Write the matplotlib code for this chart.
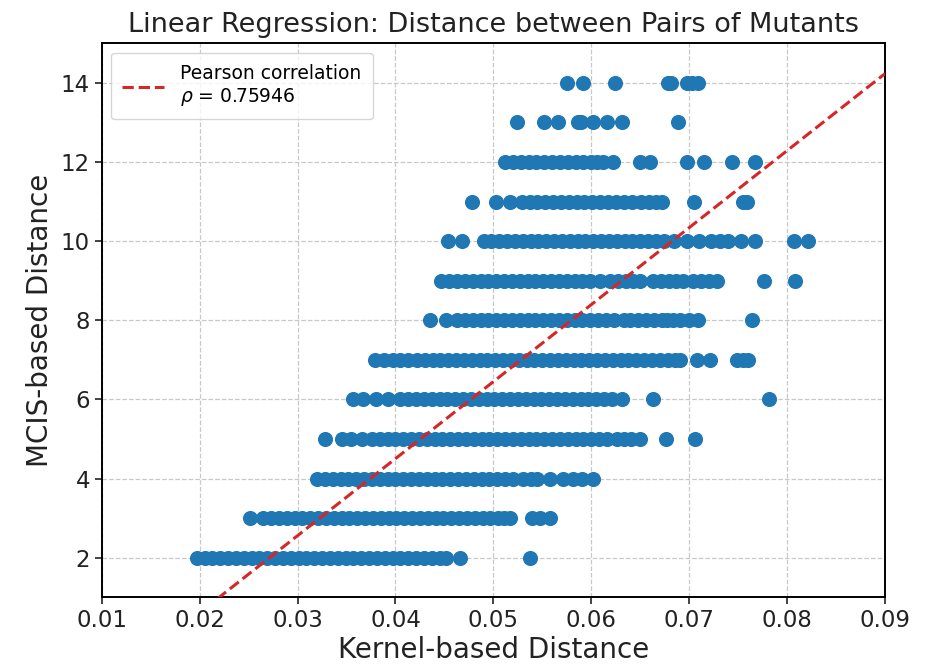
import matplotlib
matplotlib.use("Agg")
import matplotlib.pyplot as plt
import numpy as np

# MCIS-based distance levels (y) and the kernel-based distances read per level (x)
y_levels = [2, 3, 4, 5, 6, 7, 8, 9, 10, 11, 12, 13, 14]

x_row2 = [0.0197, 0.0205, 0.0213, 0.0221, 0.0229, 0.0237, 0.0245, 0.0253, 0.0261,
          0.0269, 0.0277, 0.0285, 0.0293, 0.0301, 0.0309, 0.0317, 0.0325, 0.0333,
          0.0341, 0.0349, 0.0357, 0.0365, 0.0373, 0.0381, 0.0389, 0.0397, 0.0405,
          0.0413, 0.0421, 0.0429, 0.0437, 0.0445, 0.0452, 0.0466, 0.0537]
x_row3 = [0.0251, 0.0265, 0.0273, 0.0281, 0.0289, 0.0297, 0.0305, 0.0313, 0.0321,
          0.0329, 0.0337, 0.0345, 0.0353, 0.0361, 0.0369, 0.0377, 0.0385, 0.0393,
          0.0401, 0.0409, 0.0417, 0.0425, 0.0433, 0.0441, 0.0449, 0.0457, 0.0465,
          0.0473, 0.0481, 0.0489, 0.0497, 0.0505, 0.0511, 0.0517, 0.0539, 0.0548,
          0.0558]
x_row4 = [0.0320, 0.0328, 0.0336, 0.0344, 0.0352, 0.0360, 0.0368, 0.0376, 0.0384,
          0.0392, 0.0400, 0.0408, 0.0416, 0.0424, 0.0432, 0.0440, 0.0448, 0.0456,
          0.0464, 0.0472, 0.0480, 0.0488, 0.0496, 0.0504, 0.0512, 0.0520, 0.0530,
          0.0538, 0.0545, 0.0558, 0.0571, 0.0581, 0.0591, 0.0602]
x_row5 = [0.0328, 0.0345, 0.0355, 0.0366, 0.0376, 0.0384, 0.0392, 0.0400, 0.0408,
          0.0416, 0.0424, 0.0432, 0.0440, 0.0448, 0.0456, 0.0464, 0.0472, 0.0480,
          0.0488, 0.0496, 0.0504, 0.0512, 0.0520, 0.0528, 0.0536, 0.0544, 0.0552,
          0.0560, 0.0568, 0.0576, 0.0584, 0.0592, 0.0600, 0.0608, 0.0616, 0.0626,
          0.0633, 0.0641, 0.0650, 0.0676, 0.0706]
x_row6 = [0.0357, 0.0367, 0.0380, 0.0392, 0.0405, 0.0413, 0.0421, 0.0429, 0.0437,
          0.0445, 0.0453, 0.0461, 0.0469, 0.0477, 0.0485, 0.0493, 0.0501, 0.0509,
          0.0517, 0.0525, 0.0533, 0.0541, 0.0549, 0.0557, 0.0565, 0.0573, 0.0581,
          0.0589, 0.0597, 0.0605, 0.0613, 0.0621, 0.0631, 0.0663, 0.0781]
x_row7 = [0.0379, 0.0388, 0.0397, 0.0405, 0.0413, 0.0422, 0.0430, 0.0438, 0.0446,
          0.0454, 0.0462, 0.0470, 0.0478, 0.0486, 0.0494, 0.0502, 0.0510, 0.0518,
          0.0526, 0.0534, 0.0542, 0.0550, 0.0558, 0.0566, 0.0574, 0.0582, 0.0590,
          0.0598, 0.0606, 0.0614, 0.0622, 0.0630, 0.0638, 0.0646, 0.0654, 0.0662,
          0.0670, 0.0678, 0.0685, 0.0691, 0.0708, 0.0721, 0.0749, 0.0755, 0.0760]
x_row8 = [0.0435, 0.0452, 0.0463, 0.0471, 0.0479, 0.0487, 0.0495, 0.0503, 0.0511,
          0.0519, 0.0527, 0.0535, 0.0543, 0.0551, 0.0559, 0.0567, 0.0575, 0.0583,
          0.0591, 0.0599, 0.0607, 0.0615, 0.0623, 0.0633, 0.0640, 0.0648, 0.0656,
          0.0664, 0.0672, 0.0677, 0.0683, 0.0691, 0.0700, 0.0709, 0.0764]
x_row9 = [0.0447, 0.0455, 0.0463, 0.0471, 0.0479, 0.0487, 0.0495, 0.0503, 0.0511,
          0.0519, 0.0527, 0.0535, 0.0543, 0.0551, 0.0559, 0.0567, 0.0575, 0.0583,
          0.0591, 0.0599, 0.0609, 0.0619, 0.0627, 0.0635, 0.0643, 0.0650, 0.0663,
          0.0671, 0.0679, 0.0687, 0.0694, 0.0704, 0.0712, 0.0720, 0.0728, 0.0776,
          0.0808]
x_row10 = [0.0454, 0.0468, 0.0490, 0.0498, 0.0506, 0.0514, 0.0522, 0.0530, 0.0538,
           0.0546, 0.0554, 0.0562, 0.0570, 0.0578, 0.0586, 0.0594, 0.0602, 0.0610,
           0.0618, 0.0626, 0.0634, 0.0642, 0.0650, 0.0658, 0.0666, 0.0674, 0.0684,
           0.0698, 0.0710, 0.0722, 0.0731, 0.0740, 0.0753, 0.0767, 0.0807, 0.0821]
x_row11 = [0.0478, 0.0503, 0.0517, 0.0529, 0.0537, 0.0545, 0.0553, 0.0561, 0.0569,
           0.0577, 0.0585, 0.0593, 0.0601, 0.0609, 0.0617, 0.0625, 0.0633, 0.0642,
           0.0651, 0.0659, 0.0666, 0.0672, 0.0705, 0.0755, 0.0759]
x_row12 = [0.0512, 0.0520, 0.0528, 0.0536, 0.0544, 0.0552, 0.0560, 0.0568, 0.0576,
           0.0584, 0.0592, 0.0600, 0.0606, 0.0612, 0.0622, 0.0650, 0.0660, 0.0698,
           0.0715, 0.0744, 0.0767]
x_row13 = [0.0524, 0.0552, 0.0566, 0.0586, 0.0590, 0.0602, 0.0616, 0.0631, 0.0689]
x_row14 = [0.0575, 0.0592, 0.0624, 0.0678, 0.0681, 0.0698, 0.0703, 0.0709]

rows = [x_row2, x_row3, x_row4, x_row5, x_row6, x_row7, x_row8,
        x_row9, x_row10, x_row11, x_row12, x_row13, x_row14]

# fitted regression line
slope = 194.6
intercept = -3.28
pearson_rho = 0.75946

x_ticks = [0.01, 0.02, 0.03, 0.04, 0.05, 0.06, 0.07, 0.08, 0.09]
y_ticks = [2, 4, 6, 8, 10, 12, 14]

fig = plt.figure(figsize=(9.28, 6.68), dpi=100)
ax = fig.add_axes([0.1096, 0.1058, 0.9537 - 0.1096, 0.9352 - 0.1058])

xs = np.concatenate([np.asarray(r) for r in rows])
ys = np.concatenate([np.full(len(r), lvl) for r, lvl in zip(rows, y_levels)])
ax.scatter(xs, ys, s=118, color="#1f77b4", linewidths=0, zorder=2)

x_line = np.array([x_ticks[0], x_ticks[-1]])
ax.plot(x_line, slope * x_line + intercept, "--", color="#d62728", lw=2.2,
        zorder=3, label="Pearson correlation\n$\\rho$ = %.5f" % pearson_rho)

ax.set_xlim(0.01, 0.09)
ax.set_ylim(1, 15)
ax.set_xticks(x_ticks)
ax.set_yticks(y_ticks)
ax.set_xticklabels(["%.2f" % t for t in x_ticks])
ax.tick_params(labelsize=16.5, length=5, width=1.2, colors="#222222")
ax.grid(True, linestyle="--", color="#c8c8c8", lw=0.9, zorder=0)
ax.set_axisbelow(True)
for sp in ax.spines.values():
    sp.set_linewidth(1.4)

ax.set_title("Linear Regression: Distance between Pairs of Mutants", fontsize=19.5,
             color="#222222", pad=8)
ax.set_xlabel("Kernel-based Distance", fontsize=20, color="#222222", labelpad=3)
ax.set_ylabel("MCIS-based Distance", fontsize=20, color="#222222", labelpad=5)

ax.legend(loc="upper left", fontsize=13.5, handlelength=2.2, borderpad=0.6,
          handletextpad=0.9, framealpha=0.8, edgecolor="#cccccc")

fig.savefig("out.png", dpi=100)
